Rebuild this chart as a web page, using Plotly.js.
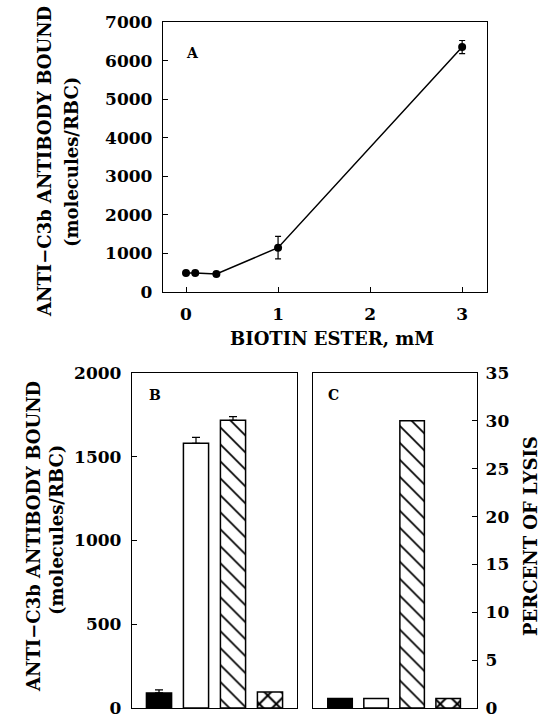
<!DOCTYPE html>
<html>
<head>
<meta charset="utf-8">
<script src="https://cdn.plot.ly/plotly-3.0.1.min.js"></script>
<style>html,body{margin:0;padding:0;background:#fff;}#chart{width:541px;height:720px;}</style>
</head>
<body>
<div id="chart"></div>
<script>
// Panel A data
const biotinConc = [0, 0.1, 0.33, 1, 3];
const antibodyA = [490, 490, 465, 1150, 6350];
const errA = [0, 0, 0, 290, 170];
const xTicksA = [0, 1, 2, 3];
const yTicksA = [0, 1000, 2000, 3000, 4000, 5000, 6000, 7000];

// Panels B and C data (four conditions)
const conditions = ['c1', 'c2', 'c3', 'c4'];
const boundB = [90, 1580, 1718, 95];
const errB = [18, 36, 22, 0];
const lysisC = [1, 1, 30, 1];
const barColors = ['black', 'white', 'white', 'white'];
const barPatterns = ['', '', '\\', 'x'];
const yTicksB = [0, 500, 1000, 1500, 2000];
const yTicksC = [0, 5, 10, 15, 20, 25, 30, 35];

const FONT = 'DejaVu Serif';
const W = 541, H = 720;
const px = v => v / W;
const py = v => 1 - v / H;

const traces = [
  {
    x: biotinConc, y: antibodyA, type: 'scatter', mode: 'lines+markers',
    xaxis: 'x', yaxis: 'y',
    line: {color: 'black', width: 1.5},
    marker: {color: 'black', size: 8},
    error_y: {type: 'data', array: errA, visible: true, color: 'black', thickness: 1.2, width: 3}
  }
];

conditions.forEach((c, i) => {
  const shape = barPatterns[i];
  const pat = shape ? {shape: shape, fgcolor: 'black', bgcolor: 'white', size: 12, solidity: shape === 'x' ? 0.3 : 0.14} : undefined;
  const mk = {color: barColors[i], line: {color: 'black', width: 1.5}};
  if (pat) mk.pattern = pat;
  traces.push({
    x: [c], y: [boundB[i]], type: 'bar', xaxis: 'x2', yaxis: 'y2', width: 0.68,
    marker: mk,
    error_y: {type: 'data', array: [errB[i]], arrayminus: [0], symmetric: false, visible: errB[i] > 0, color: 'black', thickness: 1.2, width: 4}
  });
  traces.push({
    x: [c], y: [lysisC[i]], type: 'bar', xaxis: 'x3', yaxis: 'y3', width: 0.68,
    marker: JSON.parse(JSON.stringify(mk))
  });
});

const tickFont = {family: FONT, size: 17, color: 'black', weight: 'bold'};
const titleFont = {family: FONT, size: 18, color: 'black', weight: 'bold'};
const boxAxis = {showline: true, linecolor: 'black', linewidth: 1.2, mirror: true, showgrid: false, zeroline: false, fixedrange: true, ticklabeloverflow: 'allow'};

function ann(text, x, y, angle, font) {
  return {text: text, x: px(x), y: py(y), xref: 'paper', yref: 'paper', xanchor: 'center', yanchor: 'middle',
    textangle: angle, showarrow: false, font: font};
}
const panelFont = {family: FONT, size: 14, color: 'black', weight: 'bold'};

const layout = {
  width: W, height: H,
  margin: {l: 0, r: 0, t: 0, b: 0},
  paper_bgcolor: 'white', plot_bgcolor: 'white',
  showlegend: false, barmode: 'overlay',
  font: {family: FONT, color: 'black'},
  xaxis: Object.assign({}, boxAxis, {
    domain: [px(163), px(487)], anchor: 'y', range: [-0.25, 3.27],
    tickvals: xTicksA, ticktext: xTicksA.map(String), ticks: 'inside', ticklen: 5, tickcolor: 'black',
    tickfont: tickFont, ticklabelstandoff: 6
  }),
  yaxis: Object.assign({}, boxAxis, {
    domain: [py(292), py(22)], anchor: 'x', range: [0, 7000],
    tickvals: yTicksA, ticktext: yTicksA.map(String), ticks: 'inside', ticklen: 5, tickcolor: 'black',
    tickfont: tickFont, ticklabelstandoff: 6
  }),
  xaxis2: Object.assign({}, boxAxis, {
    domain: [px(132), px(297)], anchor: 'y2', type: 'category', categoryarray: conditions, range: [-0.73, 3.73],
    showticklabels: false, ticks: ''
  }),
  yaxis2: Object.assign({}, boxAxis, {
    domain: [py(708), py(373)], anchor: 'x2', range: [0, 2000],
    tickvals: yTicksB, ticktext: yTicksB.map(String), ticks: 'inside', ticklen: 5, tickcolor: 'black',
    tickfont: tickFont, ticklabelstandoff: 6
  }),
  xaxis3: Object.assign({}, boxAxis, {
    domain: [px(313), px(477)], anchor: 'y3', type: 'category', categoryarray: conditions, range: [-0.75, 3.8],
    showticklabels: false, ticks: ''
  }),
  yaxis3: Object.assign({}, boxAxis, {
    domain: [py(708), py(373)], anchor: 'x3', side: 'right', range: [0, 35],
    tickvals: yTicksC, ticktext: yTicksC.map(String), ticks: 'inside', ticklen: 5, tickcolor: 'black',
    tickfont: tickFont, ticklabelstandoff: 4
  }),
  annotations: [
    ann('A', 192, 53, 0, panelFont),
    ann('B', 155, 395, 0, panelFont),
    ann('C', 333, 395, 0, panelFont),
    ann('BIOTIN ESTER, mM', 332, 338, 0, titleFont),
    ann('ANTI−C3b ANTIBODY BOUND', 45, 162, -90, titleFont),
    ann('(molecules/RBC)', 72, 162, -90, titleFont),
    ann('ANTI−C3b ANTIBODY BOUND', 33, 537, -90, titleFont),
    ann('(molecules/RBC)', 56, 530, -90, titleFont),
    ann('PERCENT OF LYSIS', 530, 536, -90, titleFont)
  ]
};

Plotly.newPlot('chart', traces, layout, {staticPlot: true, displayModeBar: false});
</script>
</body>
</html>
